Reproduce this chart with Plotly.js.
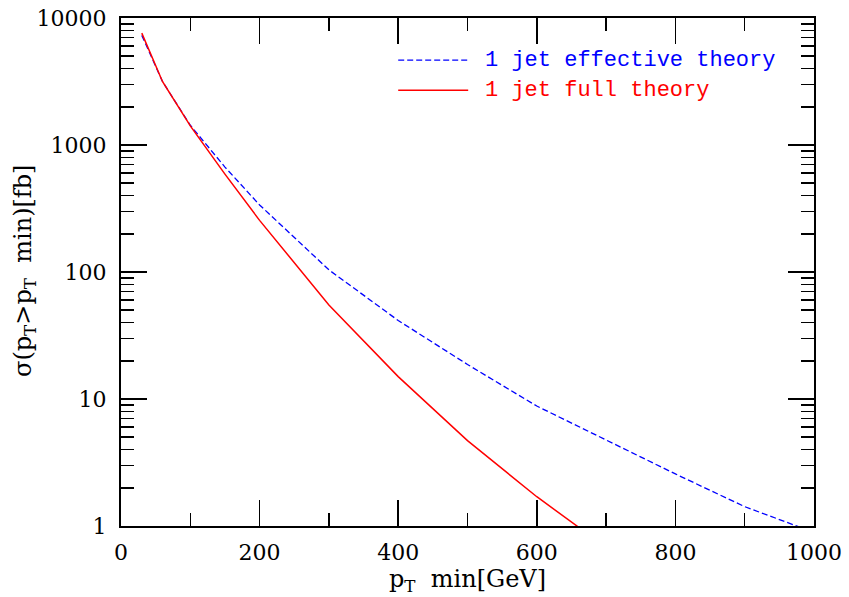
<!DOCTYPE html>
<html>
<head>
<meta charset="utf-8">
<script src="https://cdn.plot.ly/plotly-3.0.1.min.js"></script>
<style>html,body{margin:0;padding:0;background:#fff;}#chart{width:849px;height:597px;}</style>
</head>
<body>
<div id="chart"></div>
<script>
// Data
const ptMin = [30, 60, 100, 150, 200, 300, 400, 500, 600, 700, 800, 900, 1000];
const sigmaEffective = [7300, 3150, 1430, 670, 337, 104, 41.5, 18.7, 8.8, 4.75, 2.57, 1.42, 0.89];
const ptMinFull = [30, 60, 100, 150, 200, 300, 400, 500, 600, 700];
const sigmaFull = [7600, 3150, 1413, 590, 255, 55, 15, 4.7, 1.70, 0.68];
const seriesNames = ["1 jet effective theory", "1 jet full theory"];
const yTickVals = [1, 10, 100, 1000, 10000];
const yTickText = ["1", "10", "100", "1000", "10000"];

const serif = "DejaVu Serif, serif";
const mono = "Liberation Mono, monospace";

const traces = [
  {x: ptMin, y: sigmaEffective, name: seriesNames[0], mode: "lines",
   line: {color: "#0000ff", width: 1.3, dash: "6px,3px"}},
  {x: ptMinFull, y: sigmaFull, name: seriesNames[1], mode: "lines",
   line: {color: "#ff0000", width: 1.5}}
];

const layout = {
  width: 849, height: 597,
  margin: {l: 121, r: 35, t: 18, b: 71},
  paper_bgcolor: "#fff", plot_bgcolor: "#fff",
  showlegend: false,
  font: {family: serif, size: 22, color: "#000"},
  xaxis: {
    range: [0, 1000], dtick: 200, tick0: 0,
    showgrid: false, zeroline: false,
    showline: true, linecolor: "#000", linewidth: 2, mirror: "ticks",
    ticks: "inside", ticklen: 26, tickwidth: 1.5, tickcolor: "#000",
    minor: {dtick: 100, ticks: "inside", ticklen: 13, tickwidth: 1.5, tickcolor: "#000", showgrid: false},
    ticklabelstandoff: 6,
    tickfont: {family: serif, size: 22},
    title: {text: "p<sub>T</sub>\u00a0\u00a0min[GeV]", font: {family: serif, size: 24}, standoff: 6}
  },
  yaxis: {
    type: "log", range: [0, 4],
    tickvals: yTickVals, ticktext: yTickText,
    showgrid: false, zeroline: false,
    showline: true, linecolor: "#000", linewidth: 2, mirror: "ticks",
    ticks: "inside", ticklen: 26, tickwidth: 1.5, tickcolor: "#000",
    minor: {dtick: "D1", ticks: "inside", ticklen: 13, tickwidth: 1.5, tickcolor: "#000", showgrid: false},
    ticklabelstandoff: 8,
    tickfont: {family: serif, size: 22}
  },
  shapes: [
    {type: "line", xref: "paper", yref: "paper", x0: 0.400, x1: 0.501, y0: 0.917, y1: 0.917,
     line: {color: "#0000ff", width: 1.3, dash: "6px,3px"}},
    {type: "line", xref: "paper", yref: "paper", x0: 0.400, x1: 0.501, y0: 0.858, y1: 0.858,
     line: {color: "#ff0000", width: 1.5}}
  ],
  annotations: [
    {xref: "paper", yref: "paper", x: 0.522, y: 0.917, xanchor: "left", yanchor: "middle",
     showarrow: false, text: seriesNames[0], font: {family: mono, size: 22, color: "#0000ff"}},
    {xref: "paper", yref: "paper", x: 0.522, y: 0.858, xanchor: "left", yanchor: "middle",
     showarrow: false, text: seriesNames[1], font: {family: mono, size: 22, color: "#ff0000"}},
    {xref: "paper", yref: "paper", x: -0.1385, y: 0.502, xanchor: "center", yanchor: "middle",
     textangle: -90, showarrow: false,
     text: "σ(p<sub>T</sub>>p<sub>T</sub>\u00a0\u00a0min)[fb]", font: {family: serif, size: 24, color: "#000"}}
  ]
};

Plotly.newPlot("chart", traces, layout, {displayModeBar: false, staticPlot: true});
</script>
</body>
</html>
